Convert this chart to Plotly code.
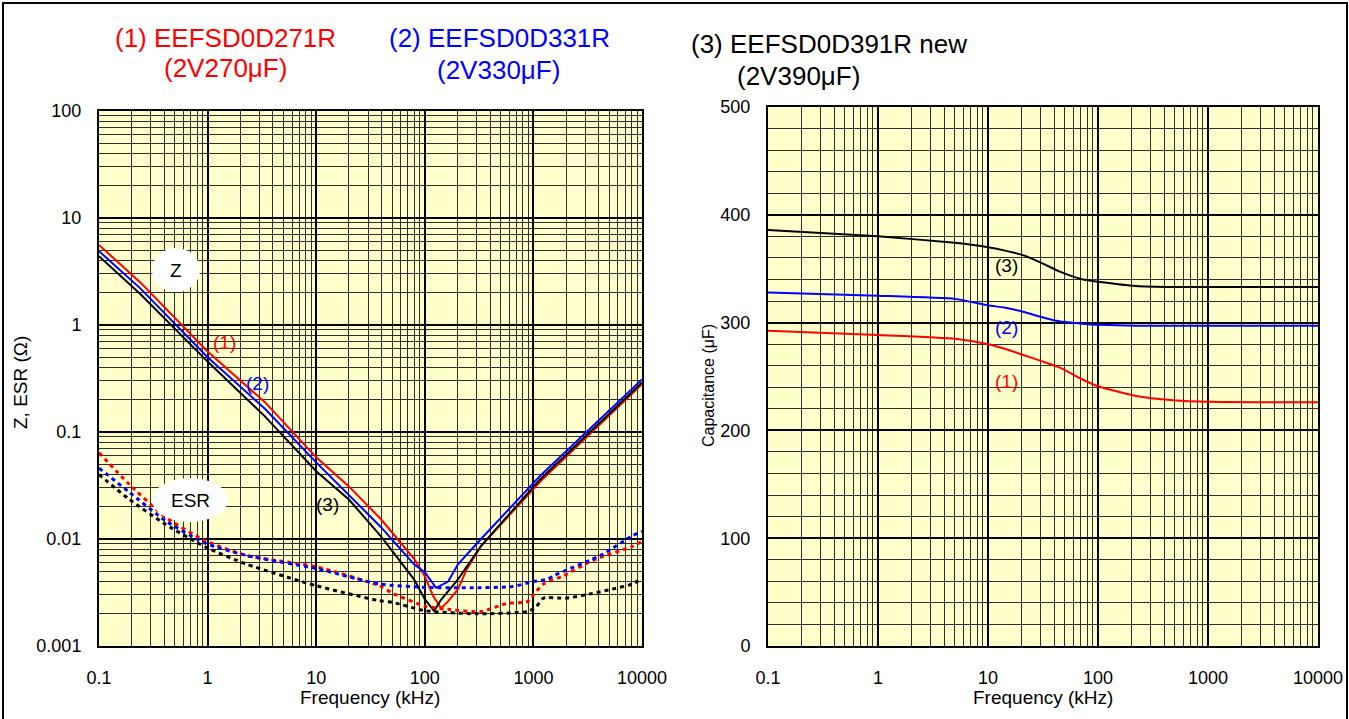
import plotly.graph_objects as go

W, H = 1349, 719

# ---------------- data ----------------
# Impedance Z (ohm) vs frequency (kHz)
z1_f = [0.1, 0.24, 1, 3.37, 10, 20, 39.5, 80, 100, 120, 141, 163, 202, 243, 329, 1175, 10000]
z1_v = [5.6, 2.5, 0.565, 0.19, 0.058, 0.031, 0.0153, 0.0065, 0.0045, 0.0029, 0.00226, 0.0026, 0.0034, 0.0052, 0.0086, 0.035, 0.28]

z2_f = [0.1, 0.24, 1, 3.37, 10, 39.5, 79.6, 100, 127, 164, 202, 329, 1150, 10000]
z2_v = [4.9, 2.2, 0.50, 0.165, 0.052, 0.0129, 0.0058, 0.0049, 0.0035, 0.0040, 0.0058, 0.0100, 0.0388, 0.31]

z3_f = [0.1, 0.24, 1, 3.37, 10, 20, 39.5, 79.6, 100, 122, 141, 202, 329, 1150, 10000]
z3_v = [4.4, 1.95, 0.455, 0.14, 0.043, 0.0234, 0.0106, 0.0042, 0.00274, 0.00212, 0.0027, 0.0042, 0.0086, 0.036, 0.29]

# ESR (ohm) vs frequency (kHz)
e1_f = [0.1, 0.19, 0.41, 0.96, 2.3, 10, 38, 51, 100, 163, 329, 570, 880, 1050, 1240, 1870, 3500, 8080, 10000]
e1_v = [0.064, 0.0324, 0.016, 0.0096, 0.0070, 0.0055, 0.00366, 0.0031, 0.00236, 0.0022, 0.0021, 0.0025, 0.0026, 0.0032, 0.0038, 0.0045, 0.0063, 0.0085, 0.0095]

e2_f = [0.1, 0.19, 0.41, 0.96, 2.3, 10, 38, 100, 260, 645, 1000, 1340, 1580, 4350, 8080, 10000]
e2_v = [0.046, 0.0274, 0.0148, 0.0091, 0.0070, 0.0053, 0.0038, 0.00353, 0.0035, 0.0036, 0.0040, 0.0042, 0.0046, 0.0072, 0.0107, 0.0118]

e3_f = [0.1, 0.19, 0.41, 0.96, 2.3, 10, 38, 51, 100, 300, 880, 1050, 1240, 2000, 3500, 5300, 8200, 10000]
e3_v = [0.040, 0.0235, 0.0137, 0.0084, 0.0058, 0.00366, 0.00265, 0.00255, 0.00214, 0.0020, 0.0021, 0.0023, 0.0028, 0.0028, 0.0031, 0.0034, 0.0038, 0.0043]

# Capacitance (uF) vs frequency (kHz)
c_f = [0.1, 1, 5, 10, 14, 20.8, 31.2, 45.6, 73, 100, 221, 486, 1000, 10000]
c1 = [292.5, 288.5, 285, 280, 276, 270, 264, 258, 247, 241, 232, 228, 226.5, 226]
c2 = [328, 325, 322, 316, 314, 310, 305, 301, 299, 298, 297, 297, 297, 297]
c3 = [386, 380, 374, 370, 367, 362.6, 355, 347, 340, 338, 334, 333, 333, 333]

# tick labels
freq_ticks = [0.1, 1, 10, 100, 1000, 10000]
freq_text = ["0.1", "1", "10", "100", "1000", "10000"]
z_ticks = [0.001, 0.01, 0.1, 1, 10, 100]
z_text = ["0.001", "0.01", "0.1", "1", "10", "100"]
c_ticks = [0, 100, 200, 300, 400, 500]

RED, BLUE, BLACK = "#FF0000", "#0000FF", "#000000"
FONT = "Liberation Sans, Arial, sans-serif"


def px(x):
    return x / W


def py(y):
    return 1 - y / H


fig = go.Figure()

# Left: Z (solid) and ESR (dotted)
for f, v, c in [(z1_f, z1_v, RED), (z2_f, z2_v, BLUE), (z3_f, z3_v, BLACK)]:
    fig.add_trace(go.Scatter(x=f, y=v, mode="lines", line=dict(color=c, width=2),
                             xaxis="x", yaxis="y", showlegend=False))
for f, v, c in [(e1_f, e1_v, RED), (e2_f, e2_v, BLUE), (e3_f, e3_v, BLACK)]:
    fig.add_trace(go.Scatter(x=f, y=v, mode="lines",
                             line=dict(color=c, width=3, dash="4px,4px", shape="spline", smoothing=0.6),
                             xaxis="x", yaxis="y", showlegend=False))

# Right: capacitance
for v, c in [(c3, BLACK), (c2, BLUE), (c1, RED)]:
    fig.add_trace(go.Scatter(x=c_f, y=v, mode="lines", line=dict(color=c, width=2, shape="spline", smoothing=0.5),
                             xaxis="x2", yaxis="y2", showlegend=False))

grid_major = dict(showgrid=True, gridcolor="black", gridwidth=2, automargin=False,
                  showline=True, linecolor="black", linewidth=2, mirror=True,
                  ticks="", zeroline=False, tickfont=dict(family=FONT, size=18, color="black"))

MINOR_COLOR = "#2e2e2e"
log_minor = dict(dtick="D1", showgrid=True, gridcolor=MINOR_COLOR, gridwidth=1.2)

fig.update_layout(
    width=W, height=H,
    margin=dict(l=0, r=0, t=0, b=0, autoexpand=False),
    paper_bgcolor="white",
    plot_bgcolor="#FFFFCC",
    font=dict(family=FONT, color="black"),
    xaxis=dict(type="log", range=[-1, 4], tickmode="array", tickvals=freq_ticks, ticktext=freq_text,
               domain=[px(99), px(642)], anchor="y", minor=log_minor,
               ticklabelstandoff=14, **grid_major),
    yaxis=dict(type="log", range=[-3, 2], tickmode="array", tickvals=z_ticks, ticktext=z_text,
               domain=[py(646), py(111)], anchor="x", minor=log_minor,
               ticklabelstandoff=12, **grid_major),
    xaxis2=dict(type="log", range=[-1, 4], tickmode="array", tickvals=freq_ticks, ticktext=freq_text,
                domain=[px(768), px(1318)], anchor="y2", minor=log_minor,
                ticklabelstandoff=14, **grid_major),
    yaxis2=dict(range=[0, 500], tickmode="array", tickvals=c_ticks,
                domain=[py(646), py(107)], anchor="x2",
                minor=dict(dtick=20, tick0=0, showgrid=True, gridcolor=MINOR_COLOR, gridwidth=1.2),
                ticklabelstandoff=12, **grid_major),
)

shapes = []
# outer frame
shapes.append(dict(type="rect", xref="paper", yref="paper", x0=px(3), x1=px(1347), y0=-0.05, y1=py(3),
                   line=dict(color="black", width=2), fillcolor="rgba(0,0,0,0)", layer="above"))
# label ellipses
shapes.append(dict(type="circle", xref="paper", yref="paper", x0=px(152), x1=px(200), y0=py(292), y1=py(248),
                   line=dict(width=0), fillcolor="white", layer="above"))
shapes.append(dict(type="circle", xref="paper", yref="paper", x0=px(152), x1=px(228), y0=py(522), y1=py(478),
                   line=dict(width=0), fillcolor="white", layer="above"))
fig.update_layout(shapes=shapes)

ann = []


def text(x, y, s, size, color="black", xanchor="center", angle=0):
    ann.append(dict(x=px(x), y=py(y), xref="paper", yref="paper", text=s, showarrow=False,
                    font=dict(family=FONT, size=size, color=color), xanchor=xanchor, yanchor="middle",
                    textangle=angle))


text(225, 38, "(1) EEFSD0D271R", 26, RED)
text(225, 68, "(2V270μF)", 26, RED)
text(499, 38, "(2) EEFSD0D331R", 26, BLUE)
text(498, 70, "(2V330μF)", 26, BLUE)
text(689, 44, "(3) EEFSD0D391R new", 26, BLACK, xanchor="left")
text(798, 76, "(2V390μF)", 26, BLACK)

text(176, 270, "Z", 19)
text(190, 500, "ESR", 19)
text(224, 342, "(1)", 19, RED)
text(257, 383, "(2)", 19, BLUE)
text(327, 504, "(3)", 19, BLACK)
text(1006, 265, "(3)", 19, BLACK)
text(1006, 328, "(2)", 19, BLUE)
text(1006, 381, "(1)", 19, RED)

text(370, 697, "Frequency (kHz)", 19)
text(1043, 697, "Frequency (kHz)", 19)
text(20, 383, "Z, ESR (Ω)", 19, angle=-90)
text(708, 385, "Capacitance (μF)", 16, angle=-90)

fig.update_layout(annotations=ann)

fig.write_html("out.html", config={"displayModeBar": False},
               post_script="document.body.style.margin='0';document.body.style.overflow='hidden';")
